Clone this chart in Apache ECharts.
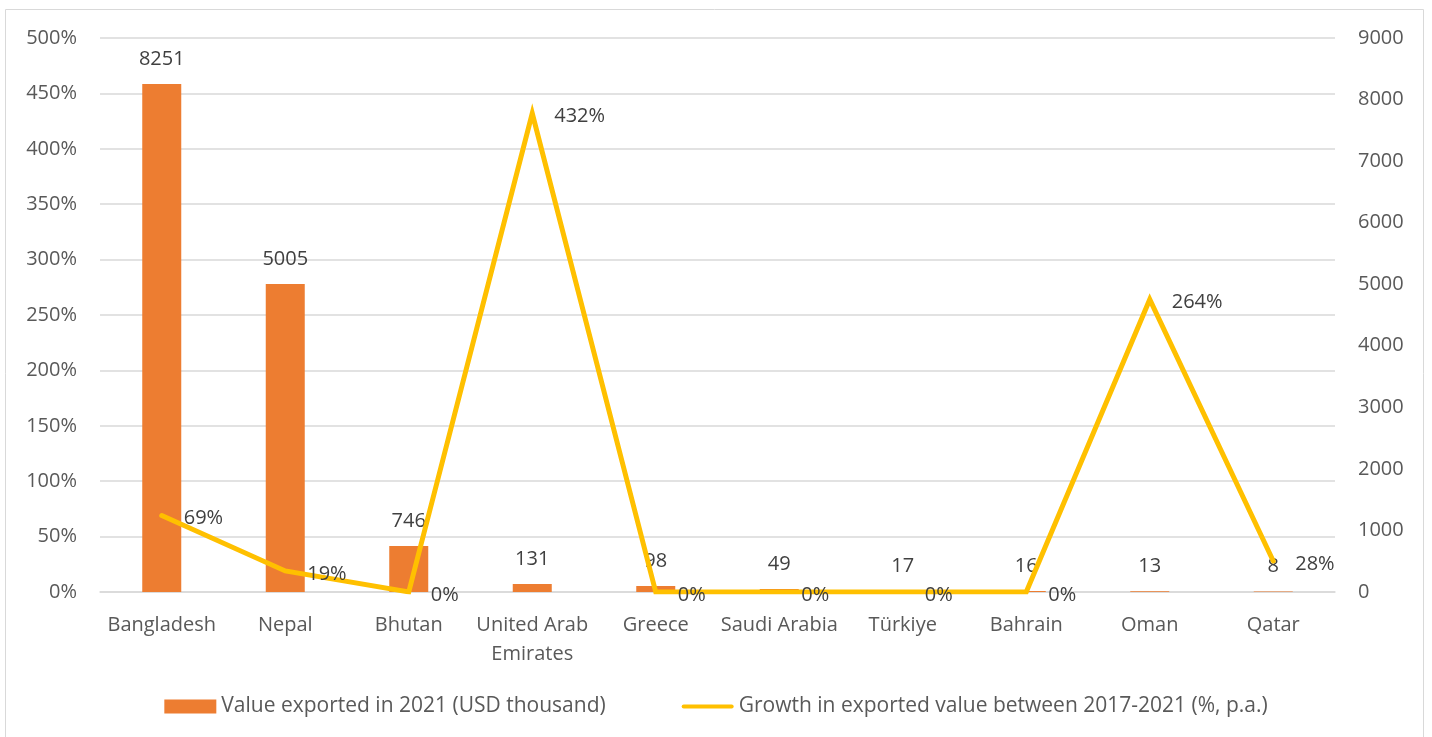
<!DOCTYPE html>
<html>
<head>
<meta charset="utf-8">
<script src="https://cdn.jsdelivr.net/npm/echarts@6/dist/echarts.min.js"></script>
<style>
  html, body { margin: 0; padding: 0; background: #ffffff; }
  #chart { width: 1432px; height: 737px; }
</style>
</head>
<body>
<div id="chart"></div>
<script>
// Export destinations
const countries = ['Bangladesh', 'Nepal', 'Bhutan', 'United Arab Emirates', 'Greece',
  'Saudi Arabia', 'Türkiye', 'Bahrain', 'Oman', 'Qatar'];
// Value exported in 2021, USD thousand
const exportValue = [8251, 5005, 746, 131, 98, 49, 17, 16, 13, 8];
// Annual growth of exported value 2017-2021, percent
const growthPct = [69, 19, 0, 432, 0, 0, 0, 0, 264, 28];

const barName = 'Value exported in 2021 (USD thousand)';
const lineName = 'Growth in exported value between 2017-2021 (%, p.a.)';

const FONT = '"Open Sans", sans-serif';
const AXIS_TEXT = '#595959';
const LABEL_TEXT = '#404040';
const GRID = '#d9d9d9';
const ORANGE = '#ED7D31';
const GOLD = '#FFC000';

const chart = echarts.init(document.getElementById('chart'));

chart.setOption({
  animation: false,
  textStyle: { fontFamily: FONT },
  graphic: [{
    type: 'rect',
    shape: { x: 5.5, y: 9.5, width: 1418, height: 740 },
    style: { fill: 'none', stroke: GRID, lineWidth: 1 },
    silent: true,
    z: -1
  }],
  grid: { left: 100, right: 97, top: 38, bottom: 145 },
  legend: {
    top: 691,
    left: 'center',
    itemGap: 76,
    itemWidth: 52,
    itemHeight: 14,
    textStyle: { fontFamily: FONT, fontSize: 21, color: AXIS_TEXT },
    data: [
      { name: barName, icon: 'rect', itemStyle: { color: ORANGE } },
      {
        name: lineName,
        icon: 'path://M2,0 L50,0 A2,2 0 0 1 50,4 L2,4 A2,2 0 0 1 2,0 Z',
        itemStyle: { color: GOLD, opacity: 1 }
      }
    ]
  },
  xAxis: {
    type: 'category',
    data: countries,
    axisTick: { show: false },
    axisLine: { lineStyle: { color: GRID, width: 1.5 } },
    axisLabel: {
      color: AXIS_TEXT,
      fontFamily: FONT,
      fontSize: 20,
      margin: 19,
      lineHeight: 29,
      interval: 0,
      formatter: (v) => {
        if (v.length > 14) {
          const i = v.lastIndexOf(' ');
          return v.slice(0, i) + '\n' + v.slice(i + 1);
        }
        return v;
      }
    }
  },
  yAxis: [
    {
      type: 'value',
      min: 0, max: 500, interval: 50,
      axisLine: { show: false },
      axisTick: { show: false },
      splitLine: { lineStyle: { color: GRID, width: 1.5 } },
      axisLabel: { color: AXIS_TEXT, fontFamily: FONT, fontSize: 20, margin: 23, formatter: '{value}%' }
    },
    {
      type: 'value',
      min: 0, max: 9000, interval: 1000,
      axisLine: { show: false },
      axisTick: { show: false },
      splitLine: { show: false },
      axisLabel: {
        color: AXIS_TEXT, fontFamily: FONT, fontSize: 20, margin: 23,
        formatter: (v) => String(v)
      }
    }
  ],
  series: [
    {
      name: barName,
      type: 'bar',
      yAxisIndex: 1,
      data: exportValue,
      barWidth: 39,
      itemStyle: { color: ORANGE },
      label: {
        show: true,
        position: 'top',
        distance: 15,
        color: LABEL_TEXT,
        fontFamily: FONT,
        fontSize: 20
      },
      z: 2
    },
    {
      name: lineName,
      type: 'line',
      yAxisIndex: 0,
      data: growthPct,
      symbol: 'circle',
      symbolSize: 0,
      showSymbol: true,
      lineStyle: { color: GOLD, width: 5, cap: 'round', join: 'miter' },
      itemStyle: { color: GOLD },
      label: {
        show: true,
        position: 'right',
        distance: 22,
        offset: [0, 3],
        color: LABEL_TEXT,
        fontFamily: FONT,
        fontSize: 20,
        formatter: (p) => p.value + '%'
      },
      z: 3
    }
  ]
});
</script>
</body>
</html>
